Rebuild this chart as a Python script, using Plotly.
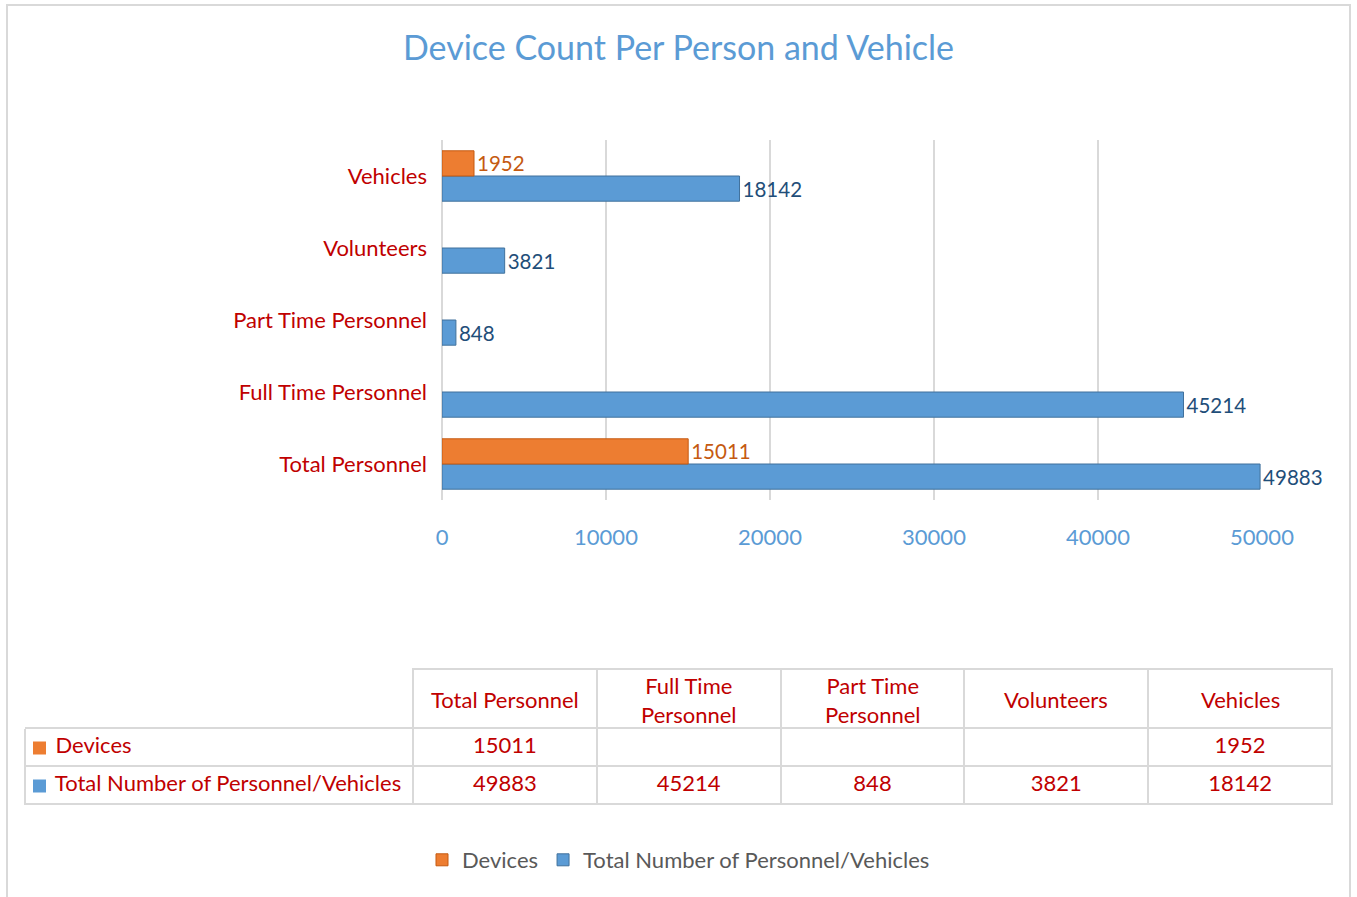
import plotly.graph_objects as go

categories = ["Total Personnel", "Full Time Personnel", "Part Time Personnel", "Volunteers", "Vehicles"]
devices = [15011, None, None, None, 1952]
totals = [49883, 45214, 848, 3821, 18142]
x_ticks = [0, 10000, 20000, 30000, 40000, 50000]
table_headers = ["Total Personnel", "Full Time<br>Personnel", "Part Time<br>Personnel", "Volunteers", "Vehicles"]
series_names = ["Devices", "Total Number of Personnel/Vehicles"]

W, H = 1357, 897
FONT = "Lato, Calibri, Carlito, sans-serif"
ORANGE = "#ED7D31"
BLUE = "#5B9BD5"
RED = "#C00000"
GRID = "#D9D9D9"
FS = 22

def px_x(p):
    return p / W

def px_y(p):
    return 1 - p / H

fig = go.Figure()

fig.add_trace(go.Bar(
    y=categories, x=totals, orientation="h", name=series_names[1],
    marker=dict(color=BLUE, line=dict(color="#41719C", width=1)),
    texttemplate="%{x:.0f}", textposition="outside",
    textfont=dict(color="#1F4E79", size=FS, family=FONT),
    cliponaxis=False, legendrank=2,
))
fig.add_trace(go.Bar(
    y=categories, x=devices, orientation="h", name=series_names[0],
    marker=dict(color=ORANGE, line=dict(color="#C55A11", width=1)),
    texttemplate="%{x:.0f}", textposition="outside",
    textfont=dict(color="#C55A11", size=FS, family=FONT),
    cliponaxis=False, legendrank=1,
))

def fmt(v):
    return "" if v is None else str(v)

NB = "\u00a0"
pad = NB * 4
row_labels = [pad + s.replace(" ", NB) for s in series_names]
cols = [row_labels]
for i in range(len(categories)):
    cols.append([fmt(devices[i]), fmt(totals[i])])

# table geometry (pixels)
T_LEFT, T_RIGHT = 25, 1332
T_TOP, HEAD_H, ROW_H = 669, 59, 38
col_w = [388] + [(T_RIGHT - T_LEFT - 388) / 5] * 5
T_BOTTOM = T_TOP + HEAD_H + 2 * ROW_H

fig.add_trace(go.Table(
    domain=dict(x=[px_x(T_LEFT), px_x(T_RIGHT)], y=[px_y(T_BOTTOM + 1), px_y(T_TOP)]),
    columnwidth=col_w,
    header=dict(
        values=[""] * (len(table_headers) + 1),
        fill_color="white",
        line=dict(color=["white"] + [GRID] * 5, width=2),
        font=dict(color=RED, size=FS, family=FONT),
        align="center", height=HEAD_H,
    ),
    cells=dict(
        values=cols,
        fill_color="white",
        line=dict(color=GRID, width=2),
        font=dict(color=RED, size=FS, family=FONT),
        align=["left"] + ["center"] * 5, height=ROW_H,
    ),
))

# header labels, vertically centred in the header row
x_edge = T_LEFT + col_w[0]
for j, label in enumerate(table_headers):
    xc = x_edge + col_w[j + 1] * (j + 0.5)
    fig.add_annotation(x=px_x(xc), y=px_y(T_TOP + HEAD_H / 2 + 1), xref="paper", yref="paper",
                       text=label, showarrow=False, xanchor="center", yanchor="middle",
                       font=dict(color=RED, size=FS, family=FONT))

# top border of the first column's data cells
fig.add_shape(type="line", xref="paper", yref="paper",
              x0=px_x(T_LEFT), x1=px_x(x_edge), y0=px_y(T_TOP + HEAD_H), y1=px_y(T_TOP + HEAD_H),
              line=dict(color=GRID, width=2), layer="above")

# chart border
fig.add_shape(type="rect", xref="paper", yref="paper",
              x0=px_x(7), x1=px_x(1350), y0=px_y(905), y1=px_y(5),
              line=dict(color=GRID, width=2), fillcolor="rgba(0,0,0,0)", layer="below")
# legend keys inside the data table
for color, yc in [(ORANGE, 748), (BLUE, 786)]:
    fig.add_shape(type="rect", xref="paper", yref="paper",
                  x0=px_x(33), x1=px_x(46), y0=px_y(yc + 6.5), y1=px_y(yc - 6.5),
                  line=dict(width=0), fillcolor=color, layer="above")

fig.update_layout(
    width=W, height=H, autosize=False,
    margin=dict(l=0, r=0, t=0, b=0, pad=0, autoexpand=False),
    paper_bgcolor="white", plot_bgcolor="white",
    font=dict(family=FONT),
    title=dict(text="Device Count Per Person and Vehicle", x=0.5, xanchor="center",
               y=px_y(48), yanchor="middle",
               font=dict(size=34, color=BLUE, family=FONT)),
    barmode="group", bargap=0.3, bargroupgap=0.0,
    xaxis=dict(domain=[px_x(442), px_x(1262)], range=[0, 50000],
               tickvals=x_ticks, ticktext=[str(v) for v in x_ticks],
               tickfont=dict(color=BLUE, size=FS, family=FONT),
               showgrid=True, gridcolor=GRID, gridwidth=1.5,
               zeroline=True, zerolinecolor=GRID, zerolinewidth=1.5,
               showline=False, ticks="", ticklabelstandoff=22,
               fixedrange=True, automargin=False),
    yaxis=dict(domain=[px_y(500), px_y(140)],
               tickfont=dict(color=RED, size=FS, family=FONT),
               ticks="", ticklabelstandoff=14, showgrid=False, showline=False,
               fixedrange=True, automargin=False),
    legend=dict(orientation="h", x=0.5, xanchor="center", y=px_y(860), yanchor="middle",
                font=dict(color="#595959", size=FS, family=FONT),
                itemwidth=30, traceorder="normal"),
)

fig.write_html("out.html", config={"displayModeBar": False},
               post_script="document.body.style.margin='0';document.body.style.overflow='hidden';")
